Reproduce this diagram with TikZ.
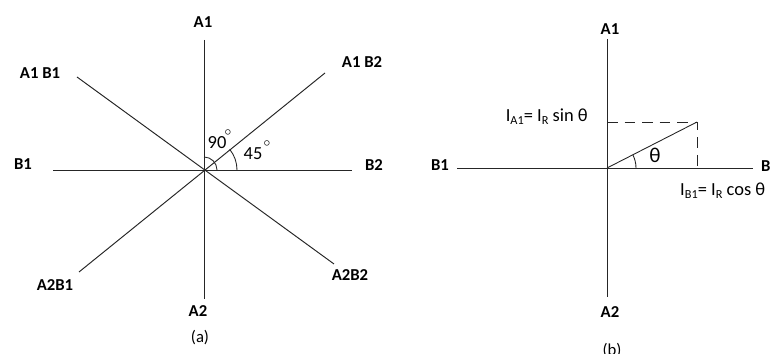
\documentclass[tikz,border=0pt]{standalone}
\usepackage{fontspec}
\setmainfont{Carlito}
\usetikzlibrary{calc}
\begin{document}
\begin{tikzpicture}[x=0.02cm, y=0.02cm, line width=0.55pt, draw=black!85,
	font=\fontsize{9.5}{10}\selectfont,
	etich/.style = {inner sep=1pt, font=\fontsize{9.5}{10}\selectfont\bfseries},
	didasc/.style = {inner sep=1pt, font=\fontsize{9.5}{10}\selectfont},
	formula/.style = {inner sep=1pt, font=\fontsize{10.5}{11}\selectfont},
	tratt/.style = {dash pattern=on 6pt off 4pt},
	angolo/.style = {line width=0.5pt},
	]
	\newcommand{\sub}[1]{\raisebox{-0.35ex}{\fontsize{7}{7}\selectfont #1}}
	
	%% ── Riquadro ─────────────────────────────────────────────────────────────
	\useasboundingbox (0,0) rectangle (771,354);
	
	%% ── Figura (a): assi ─────────────────────────────────────────────────────
	\coordinate (O)   at (204,184);
	\coordinate (a1)  at (204,314);
	\coordinate (a2)  at (204,55);
	\coordinate (b1)  at (53,184);
	\coordinate (b2)  at (352,184);
	\coordinate (a1b1) at (77,277);
	\coordinate (a2b2) at (334,90);
	\coordinate (a1b2) at (325,281);
	\coordinate (a2b1) at (79,82);
	
	\draw (a1)--(a2);
	\draw (b1)--(b2);
	\draw (a1b1)--(a2b2);
	\draw (a1b2)--(a2b1);
	
	%% etichette
	\node[etich] (lA1)   at (203,332) {A1};
	\node[etich] (lA2)   at (198,43)  {A2};
	\node[etich] (lB1)   at (23,190)  {B1};
	\node[etich] (lB2)   at (374,189) {B2};
	\node[etich] (lA1B1) at (40,281)  {A1 B1};
	\node[etich] (lA1B2) at (362,292) {A1 B2};
	\node[etich] (lA2B1) at (55,69)   {A2B1};
	\node[etich] (lA2B2) at (350,79)  {A2B2};
	\node[didasc] (capa) at (200,16)  {(a)};
	
	%% angoli
	\draw[angolo] ($(O)+(13,0)$) arc[start angle=0, end angle=90, radius=13];
	\draw[angolo] ($(O)+(33,0)$) arc[start angle=0, end angle=38.7, radius=33];
	\node[formula] (l90) at (217,211) {90};
	\node[didasc, font=\fontsize{7}{8}\selectfont] (g90) at (228,221) {$\circ$};
	\node[formula] (l45) at (253,200) {45};
	\node[didasc, font=\fontsize{7}{8}\selectfont] (g45) at (267,210) {$\circ$};
	
	%% ── Figura (b): assi ─────────────────────────────────────────────────────
	\coordinate (P)   at (607,186);
	\coordinate (pa1) at (607,315);
	\coordinate (pa2) at (607,57);
	\coordinate (pb1) at (457,186);
	\coordinate (pb2) at (753,186);
	\coordinate (R)   at (697,232);
	\coordinate (Ry)  at (607,232);
	\coordinate (Rx)  at (697,186);
	
	\draw (pa1)--(pa2);
	\draw (pb1)--(pb2);
	\draw[line width=0.5pt] (P)--(R);
	\draw[tratt] (Ry)--(R)--(Rx);
	\draw[angolo] ($(P)+(29,0)$) arc[start angle=0, end angle=27, radius=29];
	
	%% etichette
	\node[etich] (mA1) at (610,325) {A1};
	\node[etich] (mA2) at (610,42)  {A2};
	\node[etich] (mB1) at (440,189) {B1};
	\node[etich, anchor=west] (mB2) at (759,188) {B2};
	\node[formula, font=\fontsize{12}{12}\selectfont] (th) at (655,199) {θ};
	\node[formula, anchor=east] (eqA) at (590,237)
		{I\sub{A1}= I\sub{R} sin θ};
	\node[formula, anchor=west] (eqB) at (678,163)
		{I\sub{B1}= I\sub{R} cos θ};
	\node[didasc] (capb) at (612,3) {(b)};
	
\end{tikzpicture}
\end{document}
